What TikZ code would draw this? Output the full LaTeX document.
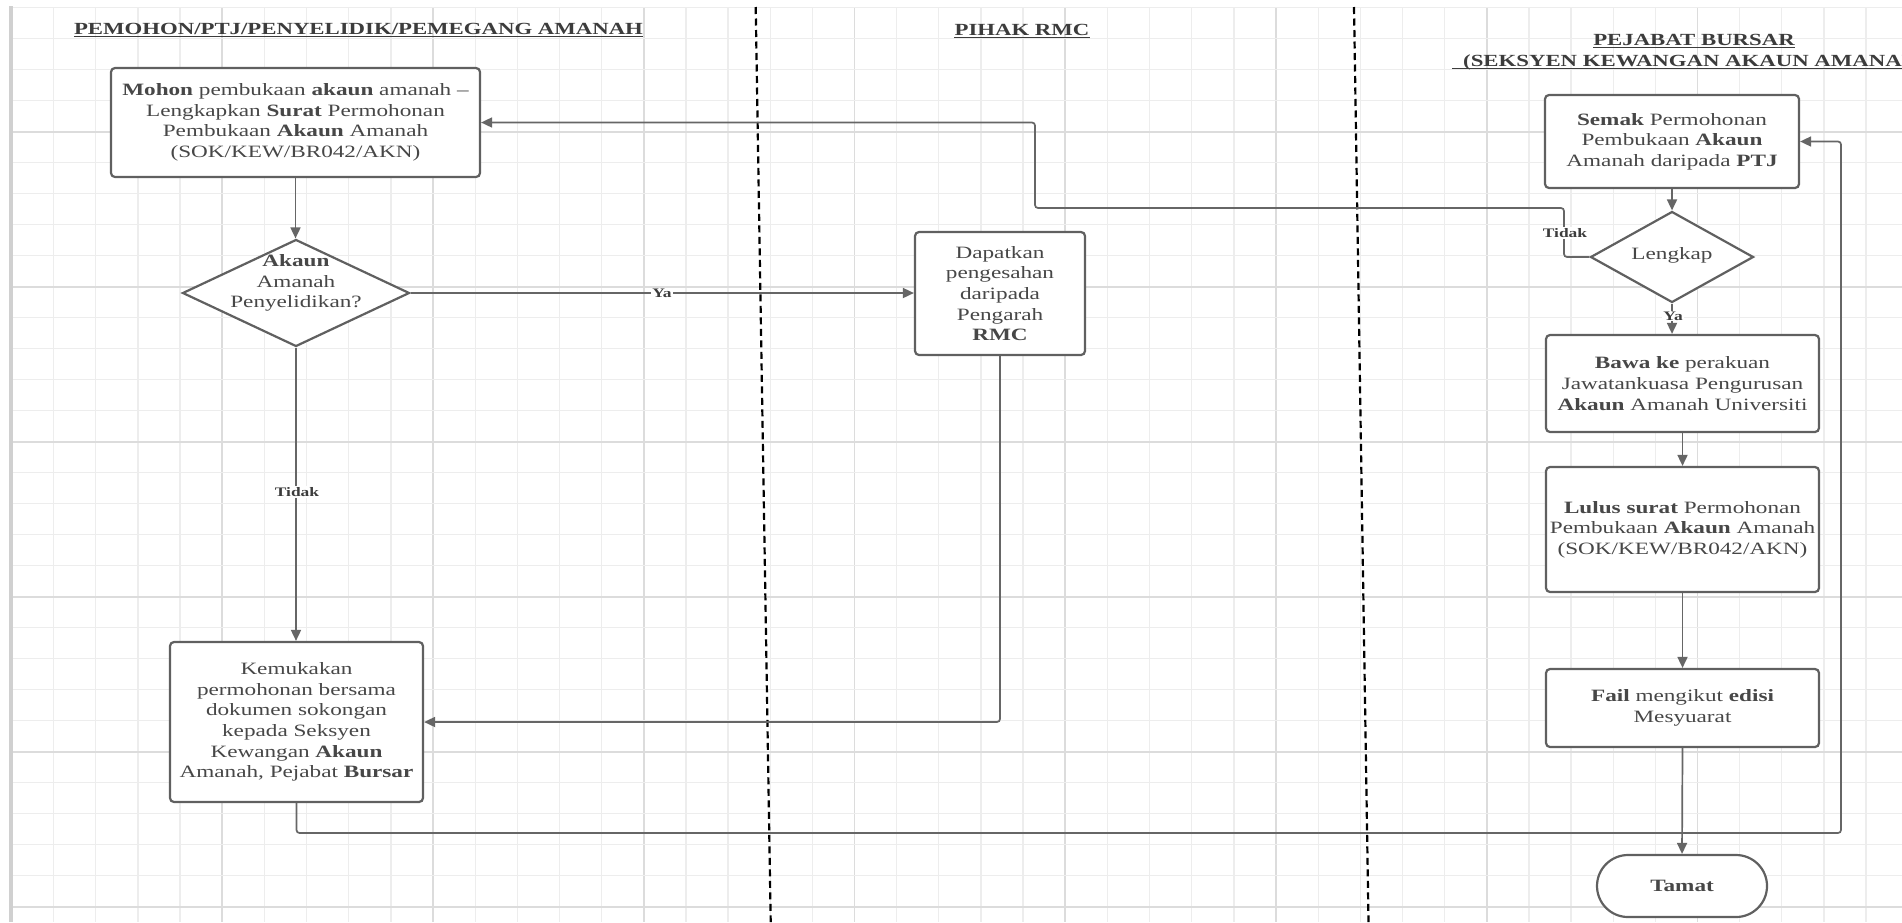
\documentclass[tikz,border=0pt]{standalone}
\usepackage{fontspec}
\setmainfont{Liberation Serif}[FakeStretch=1.34]
\usetikzlibrary{shapes.geometric,arrows.meta}
\definecolor{gridminor}{HTML}{EDEDED}
\definecolor{gridmajor}{HTML}{DCDCDC}
\definecolor{leftbar}{HTML}{D0D0D0}
\definecolor{edge}{HTML}{606060}
\definecolor{conncol}{HTML}{666666}
\definecolor{txt}{HTML}{474747}
\definecolor{headcol}{HTML}{3C3C3C}
\newcommand\myBody{\fontsize{17.3}{20.6}\selectfont}
\newcommand\myHead{\bfseries\fontsize{17}{21}\selectfont}
\newcommand\myLbl{\bfseries\fontsize{13}{15}\selectfont}
\begin{document}
\begin{tikzpicture}[x=1pt,y=-1pt,
  proc/.style={draw=edge, line width=2.2pt, rounded corners=4pt, fill=white, text=txt, align=center, inner sep=0pt, font=\myBody},
  dia/.style={diamond, draw=edge, line width=2.2pt, fill=white, inner sep=0pt},
  diatext/.style={text=txt, align=center, inner sep=0pt, font=\myBody},
  conn/.style={draw=conncol, line width=1.7pt, rounded corners=3pt},
  arr/.style={conn, -{Triangle[length=11pt,width=10pt]}},
  lbl/.style={fill=white, inner sep=1pt, text=headcol, font=\myLbl},
  head/.style={text=headcol, font=\myHead, inner sep=0pt, anchor=base},
  uline/.style={draw=headcol, line width=1.4pt}]
\useasboundingbox (0,0) rectangle (1902,922);
\clip (0,0) rectangle (1902,922);
\fill[white] (0,0) rectangle (1902,922);
% grid
\foreach \k in {0,...,44} {
  \pgfmathsetmacro\xx{11.5+42.15*\k}
  \pgfmathtruncatemacro\m{mod(\k,5)}
  \ifnum\m=0
    \draw[gridmajor, line width=1.6pt] (\xx,7.7) -- (\xx,922);
  \else
    \draw[gridminor, line width=1.3pt] (\xx,7.7) -- (\xx,922);
  \fi
}
\foreach \k in {0,...,29} {
  \pgfmathsetmacro\yy{7.7+31*\k}
  \pgfmathtruncatemacro\m{mod(\k,5)}
  \ifnum\m=4
    \draw[gridmajor, line width=1.6pt] (11.5,\yy) -- (1902,\yy);
  \else
    \draw[gridminor, line width=1.3pt] (11.5,\yy) -- (1902,\yy);
  \fi
}
\draw[leftbar, line width=4pt] (11,6) -- (11,922);
% lane dividers
\draw[black, line width=2.2pt, dash pattern=on 7pt off 4.5pt] (755.7,7) -- (770.7,922);
\draw[black, line width=2.2pt, dash pattern=on 7pt off 4.5pt] (1354,7) -- (1368.5,922);
% headings
\node[head] (h1) at (358.5,34) {PEMOHON/PTJ/PENYELIDIK/PEMEGANG AMANAH};
\draw[uline] ([yshift=-2.2pt]h1.base west) -- ([yshift=-2.2pt]h1.base east);
\node[head] (h2) at (1022,35) {PIHAK RMC};
\draw[uline] ([yshift=-2.2pt]h2.base west) -- ([yshift=-2.2pt]h2.base east);
\node[head] (h3) at (1694,45) {PEJABAT BURSAR};
\draw[uline] ([yshift=-2.2pt]h3.base west) -- ([yshift=-2.2pt]h3.base east);
\node[head, anchor=base west] (h4) at (1463,66) {(SEKSYEN KEWANGAN AKAUN AMANAH)};
\draw[uline] ([xshift=-11pt,yshift=-2.2pt]h4.base west) -- ([yshift=-2.2pt]h4.base east);
% nodes
\node[proc, minimum width=369pt, minimum height=109pt] (box1) at (295.5,122.5)
  {\textbf{Mohon} pembukaan \textbf{akaun} amanah --\\Lengkapkan \textbf{Surat} Permohonan\\Pembukaan \textbf{Akaun} Amanah\\(SOK/KEW/BR042/AKN)};
\node[dia, minimum width=227pt, minimum height=107pt] (d1) at (296,293) {};
\node[diatext] (d1t) at (296,283) {\textbf{Akaun}\\Amanah\\Penyelidikan?};
\node[proc, minimum width=170pt, minimum height=123pt] (rmc) at (1000,293.5)
  {Dapatkan\\pengesahan\\daripada\\Pengarah\\\textbf{RMC}};
\node[proc, minimum width=253pt, minimum height=160pt] (kem) at (296.5,722)
  {Kemukakan\\permohonan bersama\\dokumen sokongan\\kepada Seksyen\\Kewangan \textbf{Akaun}\\Amanah, Pejabat \textbf{Bursar}};
\node[proc, minimum width=254pt, minimum height=93pt] (semak) at (1672,141.5)
  {\textbf{Semak} Permohonan\\Pembukaan \textbf{Akaun}\\Amanah daripada \textbf{PTJ}};
\node[dia, minimum width=163pt, minimum height=91pt] (d2) at (1672,257) {};
\node[diatext] (d2t) at (1672,255) {Lengkap};
\node[proc, minimum width=273pt, minimum height=97pt] (bawa) at (1682.5,383.5)
  {\textbf{Bawa ke} perakuan\\Jawatankuasa Pengurusan\\\textbf{Akaun} Amanah Universiti};
\node[proc, minimum width=273pt, minimum height=125pt] (lulus) at (1682.5,529.5)
  {\textbf{Lulus surat} Permohonan\\Pembukaan \textbf{Akaun} Amanah\\(SOK/KEW/BR042/AKN)};
\node[proc, minimum width=273pt, minimum height=78pt] (fail) at (1682.5,708)
  {\textbf{Fail} mengikut \textbf{edisi}\\Mesyuarat};
\node[proc, minimum width=170pt, minimum height=62pt, rounded corners=31pt] (tamat) at (1682,886)
  {\textbf{Tamat}};
% connectors
\coordinate (c1) at (1841,833);
\coordinate (t1) at (1564,208);
\coordinate (t2) at (1035,122.5);
\draw[arr] (box1.south) -- (box1.south |- d1.north);
\draw[arr] (d1.east) -- (d1.east -| rmc.west);
\draw[arr] (d1.south) -- (d1.south |- kem.north);
\draw[arr] (rmc.south) |- (kem.east);
\draw[arr] (kem.south) |- (c1) |- (semak.east);
\draw[arr] (semak.south) -- (d2.north);
\draw[arr] (d2.west) -| (t1) -| (t2) -- (box1.east);
\draw[arr] (d2.south) -- (d2.south |- bawa.north);
\draw[arr] (bawa.south -| lulus.north) -- (lulus.north);
\draw[arr] (lulus.south) -- (fail.north);
\draw[arr] (fail.south) -- (tamat.north);
% labels
\node[lbl] (ya1) at (662,293) {Ya};
\node[lbl] (tidak1) at (297,492) {Tidak};
\node[lbl] (tidak2) at (1565,233) {Tidak};
\node[lbl] (ya2) at (1673,316) {Ya};
\end{tikzpicture}
\end{document}
